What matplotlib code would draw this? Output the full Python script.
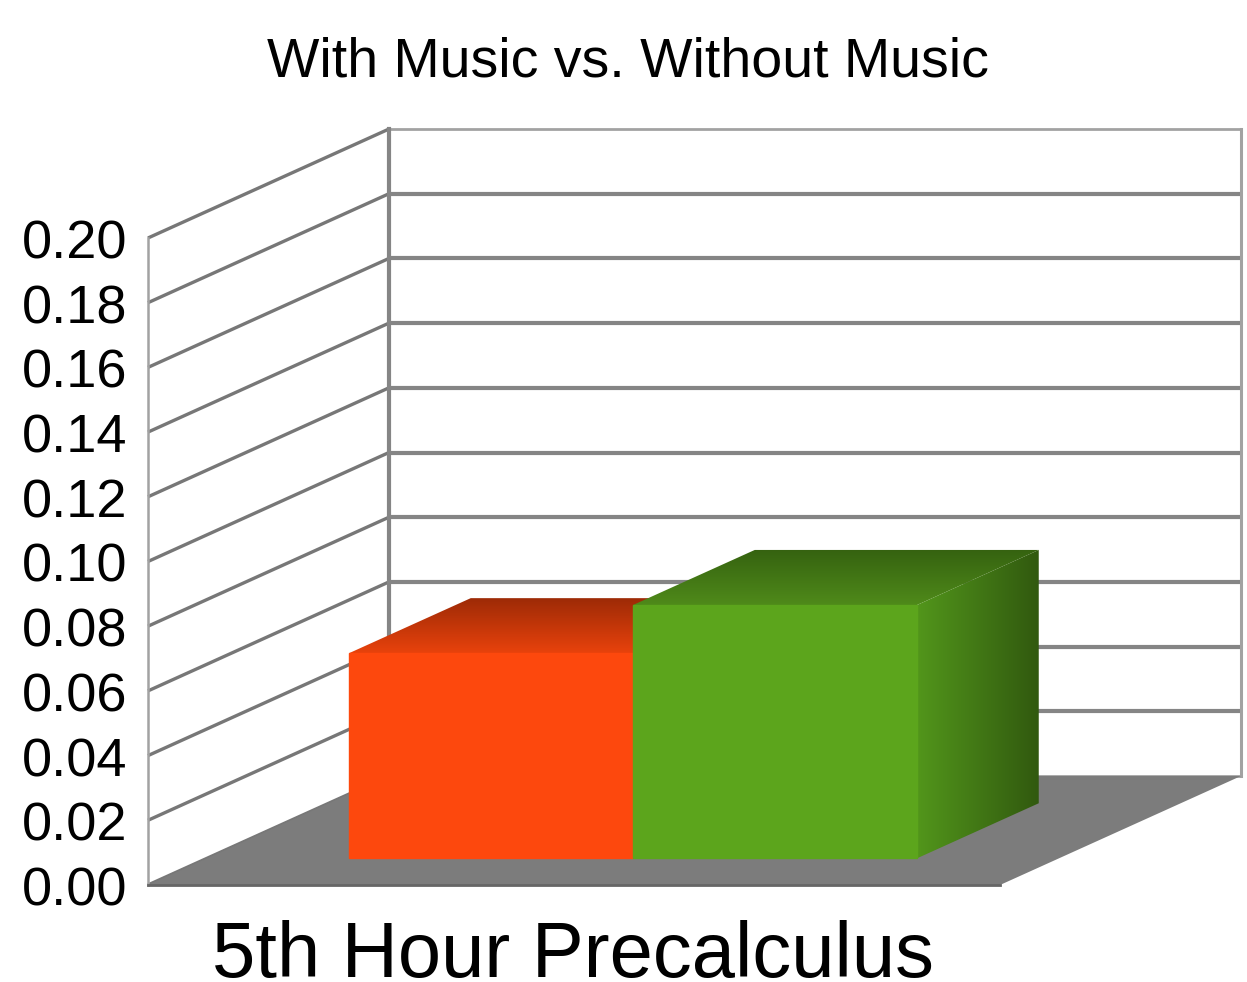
import numpy as np
import matplotlib.pyplot as plt
from matplotlib.colors import to_rgb
from matplotlib.patches import Polygon

plt.rcParams['font.family'] = ['Liberation Sans', 'DejaVu Sans']

title = "With Music vs. Without Music"
category = "5th Hour Precalculus"
series_names = ["With Music", "Without Music"]
series_values = [0.0634, 0.0783]
y_ticks = [0.00, 0.02, 0.04, 0.06, 0.08, 0.10, 0.12, 0.14, 0.16, 0.18, 0.20]
front_colors = ["#fd480d", "#5ca51c"]
top_colors = [("#e8420c", "#9c2a06"), ("#4f8a1a", "#356210")]
side_colors = ("#52961b", "#31590f")

# fake 3d chart: x across the floor, y = value, z = depth into the box
X0, X_SPAN = 148.0, 852.0
Y0, Y_SPAN = 885.0, 3235.0
DX, DZ = 241.0, 109.0
BAR_DEPTH = (0.245, 0.75)
BAR_WIDTH = 1 / 3
WALL = "#858585"
EDGE = "#a2a2a2"


def project(x, y, z):
    return X0 + x * X_SPAN + z * DX, Y0 - y * Y_SPAN - z * DZ


def gradient_patch(ax, points, colors, vertical):
    # gradient image clipped to the polygon, colors[0] is bottom/left
    t = np.linspace(0, 1, 128)[:, None]
    ramp = np.array(to_rgb(colors[0])) * (1 - t) + np.array(to_rgb(colors[1])) * t
    img = ramp[:, None, :] if vertical else ramp[None, :, :]
    xs = [p[0] for p in points]
    ys = [p[1] for p in points]
    im = ax.imshow(img, extent=(min(xs), max(xs), max(ys), min(ys)), origin='lower',
                   aspect='auto', interpolation='bilinear', zorder=4)
    clip = Polygon(points, closed=True, transform=ax.transData, fc='none', ec='none')
    ax.add_patch(clip)
    im.set_clip_path(clip)


fig = plt.figure(figsize=(12.47, 9.82), dpi=100)
ax = fig.add_axes([0, 0, 1, 1])
ax.axis('off')

y_max = y_ticks[-1]

# gridlines on both walls
for v in y_ticks:
    p0, p1, p2 = project(0, v, 0), project(0, v, 1), project(1, v, 1)
    outer = v in (y_ticks[0], y_ticks[-1])
    ax.plot([p0[0], p1[0]], [p0[1], p1[1]], color="#777777", lw=2.4, zorder=2, solid_capstyle='butt')
    ax.plot([p1[0], p2[0]], [p1[1], p2[1]], color=EDGE if outer else WALL,
            lw=2.0 if outer else 3.0, zorder=2, solid_capstyle='butt')
    ax.text(X0 - 21, p0[1] + 6.5, f"{v:.2f}", ha='right', va='center', fontsize=39, color='black')

# wall edges
ax.plot(*zip(project(0, 0, 0), project(0, y_max, 0)), color=EDGE, lw=1.8, zorder=2)
ax.plot(*zip(project(0, 0, 1), project(0, y_max, 1)), color=WALL, lw=3.0, zorder=2)
ax.plot(*zip(project(1, 0, 1), project(1, y_max, 1)), color=EDGE, lw=2.2, zorder=2)

# floor
ax.add_patch(Polygon([project(0, 0, 0), project(1, 0, 0), project(1, 0, 1), project(0, 0, 1)],
                     closed=True, fc="#7c7c7c", ec='none', zorder=3))
ax.plot(*zip(project(0, 0, 0), project(1, 0, 0)), color="#666666", lw=2, zorder=3)

# bars
z_front, z_back = BAR_DEPTH
for i, (value, front, top) in enumerate(zip(series_values, front_colors, top_colors)):
    left = BAR_WIDTH * (i + 0.5)
    right = left + BAR_WIDTH
    top_pts = [project(left, value, z_front), project(left, value, z_back),
               project(right, value, z_back), project(right, value, z_front)]
    gradient_patch(ax, top_pts, top, True)
    if i == len(series_values) - 1:
        side_pts = [project(right, 0, z_front), project(right, value, z_front),
                    project(right, value, z_back), project(right, 0, z_back)]
        gradient_patch(ax, side_pts, side_colors, False)
    # edge in the face colour hides the seam next to the clipped gradients
    ax.add_patch(Polygon([project(left, 0, z_front), project(left, value, z_front),
                          project(right, value, z_front), project(right, 0, z_front)],
                         closed=True, fc=front, ec=front, lw=1.0, zorder=5))

# imshow resets the limits
ax.set_xlim(0, 1247)
ax.set_ylim(982, 0)

ax.text(628, 62, title, ha='center', va='center', fontsize=40, color='black')
ax.text(573, 977, category, ha='center', va='baseline', fontsize=56, color='black')

fig.savefig("out.png", dpi=100)
plt.close(fig)
